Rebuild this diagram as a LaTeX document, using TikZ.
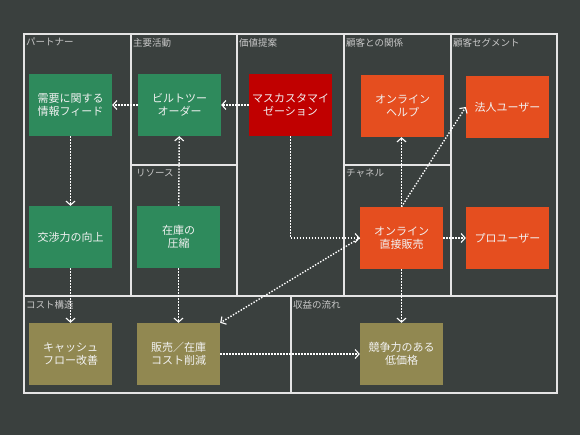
\documentclass[tikz,border=0pt]{standalone}
\usepackage{fontspec}
\setmainfont{Noto Sans CJK JP}
\usetikzlibrary{arrows.meta}
\definecolor{bg}{HTML}{3A403E}
\definecolor{bmgreen}{HTML}{2E8A5C}
\definecolor{bmred}{HTML}{C00000}
\definecolor{bmorange}{HTML}{E54E1F}
\definecolor{bmolive}{HTML}{918851}
\definecolor{lbl}{HTML}{C8C8C8}
\begin{document}
\begin{tikzpicture}[x=1pt,y=-1pt]
\tikzstyle{box}=[minimum width=83pt,minimum height=62pt,inner sep=0pt,align=center,text=white!95!black,font=\fontsize{11}{13}\selectfont]
\tikzstyle{cell}=[anchor=north west,inner sep=1pt,text=lbl,font=\fontsize{9.5}{10}\selectfont]
\tikzstyle{flow}=[white,line width=1.4pt,dash pattern=on 1.4pt off 1.6pt,-{Straight Barb[length=4pt,width=9pt,line width=1.1pt]}]
\tikzstyle{grid}=[white!90!black,line width=1.2pt]

\useasboundingbox[fill=bg] (0,0) rectangle (580,435);

\draw[grid] (24,34) rectangle (557,393);
\draw[grid] (24,296) -- (557,296);
\draw[grid] (131,34) -- (131,296);
\draw[grid] (237,34) -- (237,296);
\draw[grid] (344,34) -- (344,296);
\draw[grid] (451,34) -- (451,296);
\draw[grid] (131,165) -- (237,165);
\draw[grid] (344,165) -- (451,165);
\draw[grid] (291,296) -- (291,393);

\node[cell] (l1) at (25,37) {パートナー};
\node[cell] (l2) at (132,37) {主要活動};
\node[cell] (l3) at (238,37) {価値提案};
\node[cell] (l4) at (345,37) {顧客との関係};
\node[cell] (l5) at (452,37) {顧客セグメント};
\node[cell] (l6) at (135,168) {リソース};
\node[cell] (l7) at (345,168) {チャネル};
\node[cell] (l8) at (25,299) {コスト構造};
\node[cell] (l9) at (292,299) {収益の流れ};

\node[box,fill=bmgreen] (info) at (70.5,105) {需要に関する\\情報フィード};
\node[box,fill=bmgreen] (bto) at (179.5,105) {ビルトツー\\オーダー};
\node[box,fill=bmred] (mass) at (290.5,105) {マスカスタマイ\\ゼーション};
\node[box,fill=bmorange] (help) at (402.5,106) {オンライン\\ヘルプ};
\node[box,fill=bmorange] (corp) at (507.5,107) {法人ユーザー};
\node[box,fill=bmgreen] (nego) at (70.5,237) {交渉力の向上};
\node[box,fill=bmgreen] (stock) at (178.5,237) {在庫の\\圧縮};
\node[box,fill=bmorange] (sale) at (401.5,238) {オンライン\\直接販売};
\node[box,fill=bmorange] (pro) at (507.5,238) {プロユーザー};
\node[box,fill=bmolive] (cash) at (70.5,354) {キャッシュ\\フロー改善};
\node[box,fill=bmolive] (cost) at (178.5,354) {販売／在庫\\コスト削減};
\node[box,fill=bmolive] (price) at (401.5,354) {競争力のある\\低価格};

\draw[flow] (bto) -- (info);
\draw[flow] (mass) -- (bto);
\draw[flow] (info) -- (nego);
\draw[flow] (nego) -- (cash);
\draw[flow] (stock) -- (bto);
\draw[flow] (stock) -- (cost);
\draw[flow] (mass.south) |- (sale.west);
\draw[flow] (sale.north) -- (help.south -| sale.north);
\draw[flow] (sale.north) -- (corp.west);
\draw[flow] (sale) -- (pro);
\draw[flow] (sale.west) -- (cost.north east);
\draw[flow] (sale) -- (price);
\draw[flow] (cost) -- (price);
\end{tikzpicture}
\end{document}
